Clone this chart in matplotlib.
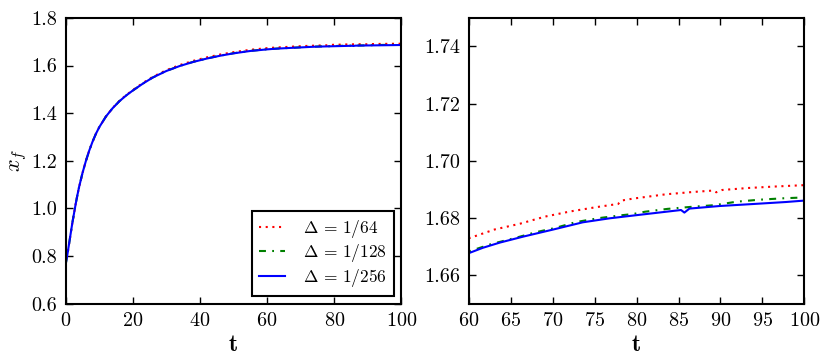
import numpy as np
import matplotlib
matplotlib.use('Agg')
import matplotlib.pyplot as plt
from matplotlib.ticker import FormatStrFormatter

plt.rcParams['font.family'] = 'cmr10'
plt.rcParams['mathtext.fontset'] = 'cm'
plt.rcParams['axes.formatter.use_mathtext'] = True
plt.rcParams['lines.scale_dashes'] = False

# x_f(t)
t_early = [0, 0.5, 1.0, 1.5, 2.0, 2.5, 3.0, 3.5, 4.0, 5.0, 6.0, 7.0, 8.0, 9.0, 10, 12, 14, 16, 18,
           20, 23, 26, 30, 34, 38, 42, 46, 50, 55]
blue_early = [0.765, 0.805, 0.850, 0.895, 0.940, 0.980, 1.020, 1.056, 1.090, 1.148, 1.198, 1.242, 1.280,
              1.313, 1.341, 1.386, 1.421, 1.450, 1.474, 1.495, 1.524, 1.550, 1.577, 1.598, 1.615,
              1.629, 1.641, 1.651, 1.661]
green_early = [0.765, 0.805, 0.850, 0.895, 0.940, 0.980, 1.020, 1.056, 1.090, 1.148, 1.198, 1.242, 1.280,
               1.313, 1.341, 1.386, 1.421, 1.450, 1.474, 1.495, 1.524, 1.550, 1.5773, 1.5983, 1.6154,
               1.6294, 1.6414, 1.6515, 1.6615]
red_early = [0.765, 0.805, 0.850, 0.895, 0.940, 0.980, 1.020, 1.056, 1.090, 1.148, 1.198, 1.242, 1.280,
             1.313, 1.341, 1.386, 1.422, 1.4515, 1.4755, 1.497, 1.5265, 1.553, 1.5805, 1.602, 1.6195,
             1.634, 1.646, 1.656, 1.666]

t_red = [60, 63.1, 66.1, 69.1, 72.1, 75.2, 76.8, 77.8, 78.2, 79.6, 80.4, 83.5, 86.7, 89.1, 89.5,
         90.2, 93.3, 96.4, 100]
red_late = [1.6729, 1.6760, 1.6780, 1.6805, 1.6823, 1.6838, 1.6845, 1.6849, 1.6861, 1.6868, 1.6871,
            1.6883, 1.6891, 1.6896, 1.6890, 1.6898, 1.6905, 1.6910, 1.6915]

t_green = [60, 62.7, 65.5, 68.1, 70.4, 72.8, 75.6, 78.3, 79.6, 81, 83.7, 86.5, 89.3, 91.9, 94.6, 97.5, 100]
green_late = [1.6683, 1.6709, 1.6730, 1.6751, 1.6766, 1.6786, 1.6800, 1.6810, 1.6814, 1.6822, 1.6832,
              1.6839, 1.6845, 1.6857, 1.6864, 1.6869, 1.6872]

t_blue = [60, 61.7, 63.7, 66.5, 70.1, 73.6, 76.8, 80, 85.3, 85.7, 86.3, 89.9, 93.9, 97.8, 100]
blue_late = [1.6677, 1.6696, 1.6714, 1.6735, 1.6760, 1.6785, 1.6799, 1.6810, 1.6828, 1.6819, 1.6833,
             1.6842, 1.6849, 1.6856, 1.6861]

labels = [r'$\Delta\,=\,1/64$', r'$\Delta\,=\,1/128$', r'$\Delta\,=\,1/256$']

series = [
    (t_early + t_red, red_early + red_late, 'r', (0, (1.5, 3.3))),
    (t_early + t_green, green_early + green_late, 'g', (0, (5, 4.5, 1.3, 4.5))),
    (t_early + t_blue, blue_early + blue_late, 'b', '-'),
]

fig, (ax1, ax2) = plt.subplots(1, 2, figsize=(8.31, 3.57), dpi=100)
fig.subplots_adjust(left=0.079, right=0.968, top=0.950, bottom=0.149, wspace=0.2006)

for ax in (ax1, ax2):
    for (tt, xx, c, ls), lab in zip(series, labels):
        ax.plot(tt, xx, color=c, linestyle=ls, lw=1.5, label=lab)
    ax.tick_params(direction='in', top=True, right=True, length=5, width=1, labelsize=14.5, pad=6)
    for s in ax.spines.values():
        s.set_linewidth(1.5)
    ax.set_xlabel('t', fontsize=17, family='cmb10', labelpad=3)

ax1.set_xlim(0, 100)
ax1.set_ylim(0.6, 1.8)
ax1.set_xticks(np.arange(0, 101, 20))
ax1.set_yticks(np.arange(0.6, 1.81, 0.2))
ax1.yaxis.set_major_formatter(FormatStrFormatter('%.1f'))
ax1.set_ylabel(r'$x_f$', fontsize=16, labelpad=2)

ax2.set_xlim(60, 100)
ax2.set_ylim(1.65, 1.75)
ax2.set_xticks(np.arange(60, 101, 5))
ax2.set_yticks(np.arange(1.66, 1.741, 0.02))
ax2.yaxis.set_major_formatter(FormatStrFormatter('%.2f'))

leg = ax1.legend(loc='lower right', fontsize=12.5, fancybox=False, edgecolor='k', framealpha=1,
                 handlelength=1.5, handletextpad=1.0, borderaxespad=0.45, labelspacing=0.15,
                 borderpad=0.4)
leg.get_frame().set_linewidth(1.5)

fig.savefig('out.png', dpi=100)
